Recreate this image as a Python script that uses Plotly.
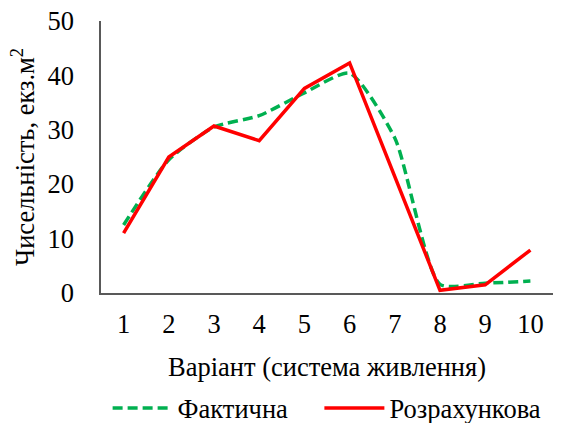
import plotly.graph_objects as go

variants = [1, 2, 3, 4, 5, 6, 7, 8, 9, 10]
actual = [12.5, 24.5, 30.5, 32.6, 36.8, 40.4, 28.5, 1.6, 1.8, 2.2]
calculated = [11.0, 25.0, 30.7, 28.0, 37.6, 42.3, 21.4, 0.5, 1.5, 7.9]

FONT = "Liberation Serif"
FS = 26.5

fig = go.Figure()

# Фактична - smoothed dashed green line
fig.add_trace(go.Scatter(
    x=variants, y=actual,
    mode='lines',
    name='Фактична\u00a0\u00a0\u00a0\u00a0',
    line=dict(color='#00B050', width=3.5, dash='10px,5px',
              shape='spline', smoothing=0.6)
))

# Розрахункова - solid red line
fig.add_trace(go.Scatter(
    x=variants, y=calculated,
    mode='lines',
    name='Розрахункова',
    line=dict(color='#FF0000', width=3.5)
))

fig.update_layout(
    width=564, height=423,
    margin=dict(l=101, r=11, t=21, b=130, autoexpand=False),
    paper_bgcolor='white',
    plot_bgcolor='white',
    font=dict(family=FONT, size=FS, color='black'),
    showlegend=True,
    legend=dict(
        orientation='h',
        xref='container', yref='container',
        x=0.58, xanchor='center',
        y=0.035, yanchor='middle',
        font=dict(family=FONT, size=FS),
        itemwidth=60,
    ),
)

fig.update_xaxes(
    range=[0.5, 10.5],
    tickmode='array', tickvals=variants,
    ticktext=[str(v) for v in variants],
    showgrid=False, zeroline=False,
    showline=True, linecolor='#595959', linewidth=1.5,
    ticks='', ticklen=0, ticklabelstandoff=6,
    automargin=False,
    tickfont=dict(family=FONT, size=FS),
    title=dict(text='Варіант (система живлення)', standoff=20,
               font=dict(family=FONT, size=FS)),
)

fig.update_yaxes(
    range=[0, 50],
    tickmode='array', tickvals=[0, 10, 20, 30, 40, 50],
    showgrid=False, zeroline=False,
    showline=True, linecolor='#595959', linewidth=1.5,
    ticks='', ticklen=0, ticklabelstandoff=20,
    automargin=False,
    tickfont=dict(family=FONT, size=FS),
    title=dict(text='Чисельність, екз.м<sup>2</sup>', standoff=5,
               font=dict(family=FONT, size=FS)),
)

# drop the default 8px body margin so the figure sits at the page corner
fig.write_html("out.html", config={'displayModeBar': False},
               post_script="document.body.style.margin='0';")
